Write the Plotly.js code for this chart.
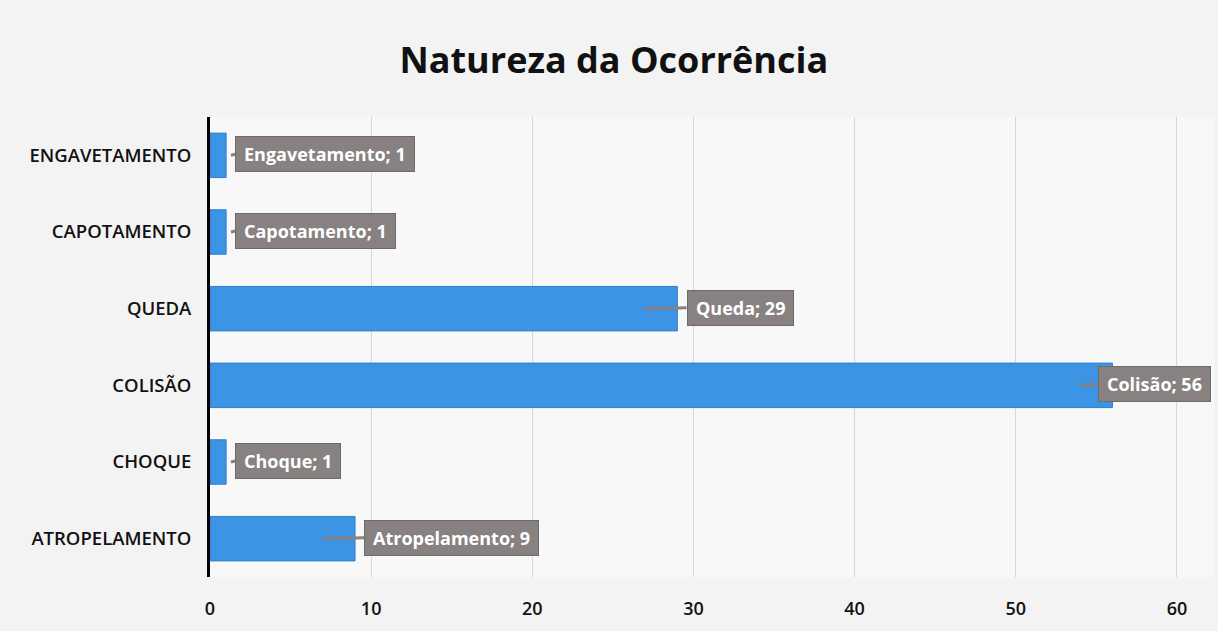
<!DOCTYPE html>
<html>
<head>
<meta charset="utf-8">
<script src="https://cdn.plot.ly/plotly-3.0.1.min.js"></script>
<style>html,body{margin:0;padding:0;background:#f3f3f3;}#chart{width:1218px;height:631px;}</style>
</head>
<body>
<div id="chart"></div>
<script>
const categories = ["ATROPELAMENTO", "CHOQUE", "COLISÃO", "QUEDA", "CAPOTAMENTO", "ENGAVETAMENTO"];
const labelNames = ["Atropelamento", "Choque", "Colisão", "Queda", "Capotamento", "Engavetamento"];
const values = [9, 1, 56, 29, 1, 1];
const xTicks = [0, 10, 20, 30, 40, 50, 60];

const barColor = "#3d93e4";
const boxColor = "#878181";

const trace = {
  type: "bar",
  orientation: "h",
  y: categories,
  x: values,
  width: 0.58,
  marker: {color: barColor, line: {color: "#2f7fcc", width: 1}},
  hoverinfo: "x+y"
};

const annotations = categories.map((c, i) => {
  const v = values[i];
  const head = v > 5 ? v - 2 : v + 0.3;
  const px = 16.2;
  const shift = (v - head) * px + (v > 50 ? -15 : 9);
  return {
    x: head, y: c, xref: "x", yref: "y",
    text: "\u2009" + labelNames[i] + "; " + v + "\u2009",
    showarrow: true, arrowhead: 0, arrowwidth: 3, arrowcolor: boxColor,
    ax: shift, ay: -1,
    xanchor: "left", yanchor: "middle",
    bgcolor: boxColor, bordercolor: "#6f6a6a", borderwidth: 1, borderpad: 5,
    font: {family: "Open Sans, sans-serif", size: 18, color: "#ffffff", weight: 700}
  };
});

const layout = {
  width: 1218, height: 631,
  paper_bgcolor: "#f3f3f3",
  plot_bgcolor: "#f8f8f8",
  margin: {l: 210, r: 4, t: 117, b: 54},
  title: {
    text: "<b>Natureza da Ocorrência</b>",
    font: {family: "Open Sans, sans-serif", size: 36, color: "#111111"},
    x: 0.504, xanchor: "center", y: 0.905, yanchor: "middle"
  },
  xaxis: {
    range: [0, 62.3],
    tickvals: xTicks,
    ticktext: xTicks.map(String),
    showgrid: true, gridcolor: "#d6d6d6", gridwidth: 1,
    zeroline: false, showline: false,
    ticks: "",
    ticklabelstandoff: 19,
    tickfont: {family: "Open Sans, sans-serif", size: 18, color: "#111111", weight: 600}
  },
  yaxis: {
    type: "category",
    categoryorder: "array", categoryarray: categories,
    range: [-0.5, 5.5],
    showline: true, linecolor: "#000000", linewidth: 3,
    showgrid: false, zeroline: false,
    ticks: "",
    ticklabelstandoff: 12,
    tickfont: {family: "Open Sans, sans-serif", size: 18.5, color: "#111111", weight: 600}
  },
  annotations: annotations,
  showlegend: false,
  bargap: 0.42
};

Plotly.newPlot("chart", [trace], layout, {displayModeBar: false, staticPlot: true});
</script>
</body>
</html>
